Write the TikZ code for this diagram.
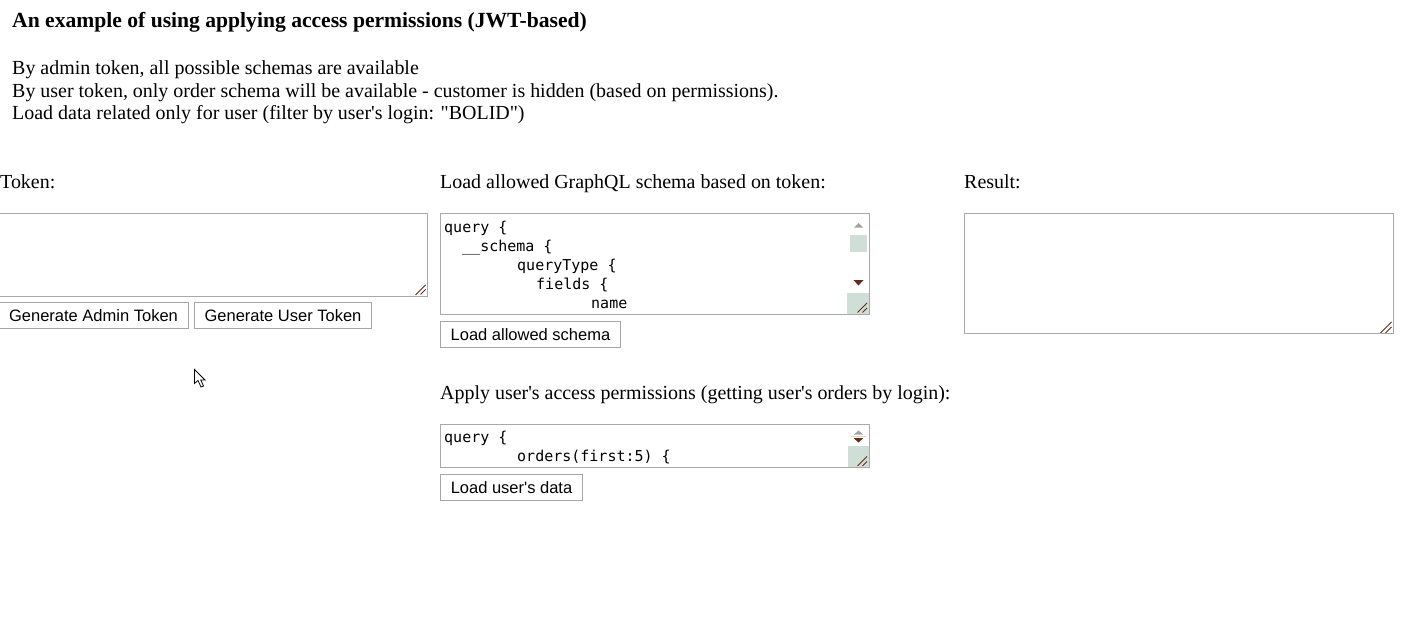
\documentclass[tikz,border=0pt]{standalone}
\usepackage{fontspec}
\setmainfont{Liberation Serif}
\newfontfamily\serf{Liberation Serif}
\newfontfamily\sansf{Liberation Sans}
\newfontfamily\monof{DejaVu Sans Mono}
\definecolor{taborder}{RGB}{169,169,169}
\definecolor{btnborder}{RGB}{166,166,166}
\definecolor{patfill}{RGB}{208,222,216}
\definecolor{uparrow}{RGB}{163,163,163}
\definecolor{downarrow}{RGB}{105,40,25}
\definecolor{gripcol}{RGB}{100,45,25}
\definecolor{sepline}{RGB}{215,215,190}
\begin{document}
\begin{tikzpicture}[x=1pt,y=-1pt,
  txt/.style={anchor=base west,inner sep=0pt,font=\fontsize{19.95}{23}\selectfont\serf},
  titletxt/.style={anchor=base west,inner sep=0pt,font=\fontsize{21.6}{25}\selectfont\serf\bfseries},
  mono/.style={anchor=base west,inner sep=0pt,font=\fontsize{15}{19}\selectfont\monof},
  tarea/.style={draw=taborder,line width=1pt,fill=white,anchor=north west,inner sep=0pt,outer sep=0pt},
  btn/.style={draw=btnborder,line width=1pt,fill=white,inner sep=0pt,outer sep=0pt,
    font=\fontsize{16.5}{19}\selectfont\sansf,text height=11.8pt,text depth=0pt,minimum height=26pt},
  patbox/.style={fill=patfill,draw=none},
  gripline/.style={draw=gripcol,line width=0.8pt},
  upar/.style={fill=uparrow,draw=none},
  downar/.style={fill=downarrow,draw=none}]
\useasboundingbox (0,0) rectangle (1409,634);
\fill[white] (0,0) rectangle (1409,634);

% heading and description
\node[titletxt] (title) at (12,27.5) {An example of using applying access permissions (JWT-based)};
\node[txt] (d1) at (12,74.5) {By admin token, all possible schemas are available};
\node[txt] (d2) at (12,97) {By user token, only order schema will be available - customer is hidden (based on permissions).};
\node[txt] (d3) at (12,119.5) {Load data related only for user (filter by user's login: "BOLID")};

% labels
\node[txt] (ltoken) at (0,188.5) {Token:};
\node[txt] (lschema) at (440,188.5) {Load allowed GraphQL schema based on token:};
\node[txt] (lresult) at (964,188.5) {Result:};
\node[txt] (lapply) at (440,399) {Apply user's access permissions (getting user's orders by login):};

% textareas
\node[tarea,minimum width=429pt,minimum height=83pt] (token) at (-1.5,213.5) {};
\node[tarea,minimum width=429pt,minimum height=101pt] (schema) at (440.5,213.5) {};
\node[tarea,minimum width=429pt,minimum height=120pt] (result) at (964.5,213.5) {};
\node[tarea,minimum width=429pt,minimum height=43pt] (orders) at (440.5,424.5) {};

% schema textarea content
\node[mono] (s1) at (444,232) {query \{};
\node[mono] (s2) at (462,251) {\_\_schema \{};
\node[mono] (s3) at (517,270) {queryType \{};
\node[mono] (s4) at (536,289) {fields \{};
\node[mono] (s5) at (591,308) {name};

% schema scrollbar
\fill[upar] (854,227.5) -- (863,227.5) -- (858.5,223) -- cycle;
\fill[patbox] (850,235) rectangle (867,252);
\fill[downar] (853.5,280) -- (863.5,280) -- (858.5,285.5) -- cycle;
\fill[patbox] (847,293) rectangle (869,314);
\draw[gripline] (867,303) -- (857.5,312.5);
\draw[gripline] (867,308) -- (862.5,312.5);

% orders textarea content
\node[mono] (o1) at (444,442.5) {query \{};
\node[mono] (o2) at (517,461.5) {orders(first:5) \{};

% orders scrollbar
\fill[upar] (854,434.5) -- (863,434.5) -- (858.5,430.5) -- cycle;
\draw[sepline,line width=0.8pt] (851,436.5) -- (866,436.5);
\fill[downar] (853.5,438) -- (863.5,438) -- (858.5,442.5) -- cycle;
\fill[patbox] (847.5,446) rectangle (869,467);
\draw[gripline] (867,456.5) -- (857.5,466);
\draw[gripline] (867,461.5) -- (862.5,466);

% plain textarea grips
\draw[gripline] (425.5,285) -- (415.5,295);
\draw[gripline] (425.5,289.5) -- (420.5,294.5);
\draw[gripline] (1391.5,322) -- (1380.5,333);
\draw[gripline] (1391.5,327) -- (1385.5,333);

% buttons
\node[btn,minimum width=190pt] (badmin) at (93.5,315.5) {Generate Admin Token};
\node[btn,minimum width=177pt] (buser) at (283,315.5) {Generate User Token};
\node[btn,minimum width=180pt] (bschema) at (530.5,334.5) {Load allowed schema};
\node[btn,minimum width=142pt] (bdata) at (511.5,487.5) {Load user's data};

% mouse cursor
\filldraw[fill=white,draw=black,line width=0.8pt,line join=miter]
  (194.5,369.5) -- (194.5,383.5) -- (198,380.5) -- (201,387) -- (203.5,386) -- (200.8,380) -- (205,380) -- cycle;
\end{tikzpicture}
\end{document}
